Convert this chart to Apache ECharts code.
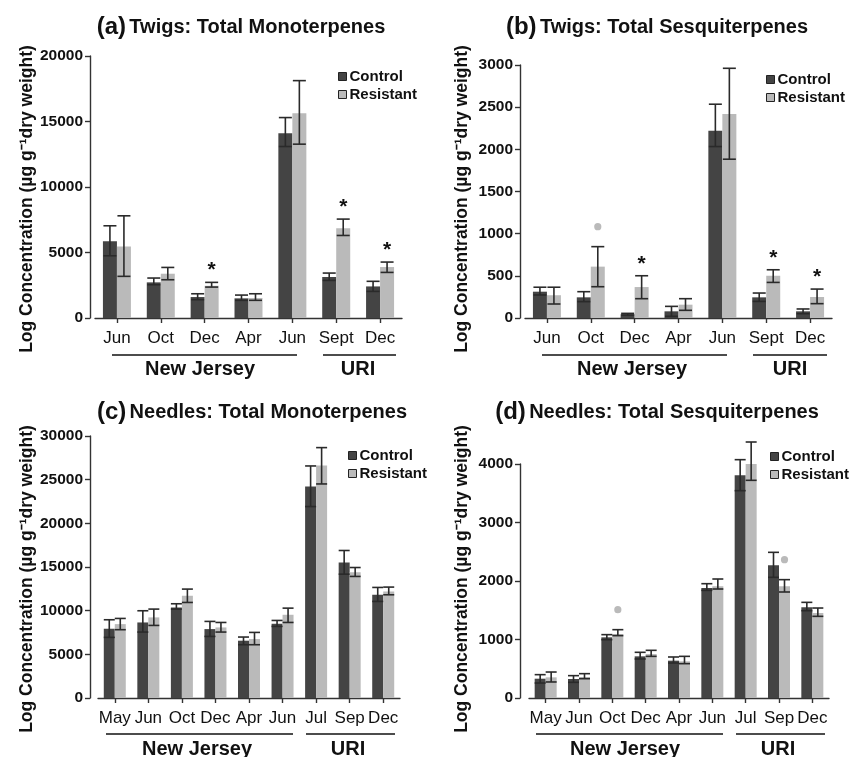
<!DOCTYPE html>
<html>
<head>
<meta charset="utf-8">
<script src="https://cdn.jsdelivr.net/npm/echarts@6/dist/echarts.min.js"></script>
<style>
html,body{margin:0;padding:0;background:#fff;}
#chart{width:859px;height:757px;}
</style>
</head>
<body>
<div id="chart"></div>
<script>
// ---------- DATA ----------
const catsTwigs = ['Jun', 'Oct', 'Dec', 'Apr', 'Jun', 'Sept', 'Dec'];
const catsNeedles = ['May', 'Jun', 'Oct', 'Dec', 'Apr', 'Jun', 'Jul', 'Sep', 'Dec'];

// (a) Twigs: Total Monoterpenes
const ctrlA    = [5850, 2720, 1600, 1500, 14100, 3130, 2410];
const ctrlA_hi = [7040, 3050, 1850, 1750, 15300, 3430, 2800];
const ctrlA_lo = [4750, 2540, 1400, 1350, 13090, 2870, 2030];
const resA     = [5460, 3380, 2460, 1525, 15630, 6860, 3890];
const resA_hi  = [7800, 3860, 2720, 1850, 18120, 7550, 4270];
const resA_lo  = [3180, 2920, 2360, 1350, 13270, 6300, 3480];
const markA    = ['', '', '*', '', '', '*', '*'];

// (b) Twigs: Total Sesquiterpenes
const ctrlB    = [312, 245, 45, 79, 2219, 245, 79];
const ctrlB_hi = [365, 312, 55, 138, 2535, 296, 107];
const ctrlB_lo = [273, 194, 35, 20, 2033, 197, 51];
const resB     = [270, 609, 367, 158, 2420, 501, 249];
const resB_hi  = [365, 846, 501, 229, 2961, 572, 343];
const resB_lo  = [166, 371, 229, 91, 1883, 422, 170];
const markB    = ['', 'dot', '*', '', '', '*', '*'];

// (c) Needles: Total Monoterpenes
const ctrlC    = [7930, 8650, 10370, 7890, 6560, 8500, 24210, 15520, 11820];
const ctrlC_hi = [8960, 9990, 10790, 8770, 6980, 8880, 26570, 16890, 12660];
const ctrlC_lo = [6940, 7550, 10180, 7050, 6100, 8200, 21920, 14180, 11060];
const resC     = [8460, 9230, 11700, 8080, 6750, 9530, 26610, 14410, 12200];
const resC_hi  = [9110, 10180, 12470, 8650, 7510, 10290, 28670, 14940, 12700];
const resC_lo  = [7820, 8310, 10940, 7550, 6100, 8650, 24510, 13920, 11820];
const markC    = ['', '', '', '', '', '', '', '', ''];

// (d) Needles: Total Sesquiterpenes
const ctrlD    = [330, 325, 1037, 712, 638, 1880, 3806, 2268, 1550];
const ctrlD_hi = [399, 382, 1083, 781, 701, 1954, 4074, 2490, 1635];
const ctrlD_lo = [256, 268, 997, 667, 598, 1840, 3544, 2063, 1493];
const resD     = [353, 359, 1094, 752, 627, 1909, 4045, 1909, 1453];
const resD_hi  = [444, 416, 1168, 815, 712, 2034, 4376, 2023, 1538];
const resD_lo  = [274, 330, 1066, 712, 587, 1863, 3721, 1812, 1396];
const markD    = ['', '', 'dot', '', '', '', '', 'dot', ''];

const yMax = [20000, 3000, 30000, 4000];
const yStep = [5000, 500, 5000, 1000];

const titlesTag = ['(a)', '(b)', '(c)', '(d)'];
const titlesText = ['Twigs: Total Monoterpenes', 'Twigs: Total Sesquiterpenes',
                    'Needles: Total Monoterpenes', 'Needles: Total Sesquiterpenes'];
const yName = 'Log Concentration (\u00b5g g\u207b\u00b9dry weight)';
const groupNames = ['New Jersey', 'URI'];
const seriesNames = ['Control', 'Resistant'];

// ---------- STYLE / LAYOUT ----------
const FONT = '"Liberation Sans", Arial, Helvetica, sans-serif';
const C_DARK = '#444444';
const C_LIGHT = '#bababa';
const C_ERR = '#2a2a2a';
const C_TEXT = '#111111';

const panels = [
  {cats: catsTwigs, ctrl: ctrlA, cHi: ctrlA_hi, cLo: ctrlA_lo, res: resA, rHi: resA_hi, rLo: resA_lo, mark: markA,
   grid: {left: 95, top: 56, width: 307, height: 262}, yOff: 5, bw: 14, cap: 13,
   legend: {left: 333, top: 64}, title: [241, 27], yname: [27, 199],
   lines: [[112, 297], [323, 396]], lineY: 355, glab: [[200, 369], [358, 369]]},
  {cats: catsTwigs, ctrl: ctrlB, cHi: ctrlB_hi, cLo: ctrlB_lo, res: resB, rHi: resB_hi, rLo: resB_lo, mark: markB,
   grid: {left: 525, top: 65, width: 307, height: 253}, yOff: 5, bw: 14, cap: 13,
   legend: {left: 761, top: 67}, title: [657, 27], yname: [462, 199],
   lines: [[542, 727], [753, 827]], lineY: 355, glab: [[632, 369], [790, 369]]},
  {cats: catsNeedles, ctrl: ctrlC, cHi: ctrlC_hi, cLo: ctrlC_lo, res: resC, rHi: resC_hi, rLo: resC_lo, mark: markC,
   grid: {left: 98, top: 436, width: 302, height: 262}, yOff: 8, bw: 11, cap: 11,
   legend: {left: 343, top: 443}, title: [252, 412], yname: [27, 579],
   lines: [[106, 293], [306, 395]], lineY: 734, glab: [[197, 749], [348, 749]]},
  {cats: catsNeedles, ctrl: ctrlD, cHi: ctrlD_hi, cLo: ctrlD_lo, res: resD, rHi: resD_hi, rLo: resD_lo, mark: markD,
   grid: {left: 529, top: 464, width: 300, height: 234}, yOff: 9, bw: 11, cap: 11,
   legend: {left: 765, top: 444}, title: [657, 412], yname: [462, 579],
   lines: [[536, 723], [736, 825]], lineY: 734, glab: [[625, 749], [778, 749]]}
];

// ---------- BUILD ----------
const grids = [], xAxes = [], yAxes = [], series = [], legends = [], graphics = [];

function errSeries(gi, lo, hi, side, bw, cap) {
  return {
    type: 'custom', xAxisIndex: gi, yAxisIndex: gi, z: 5, silent: true, clip: false,
    encode: {x: 0, y: [1, 2]},
    data: lo.map((l, i) => [i, l, hi[i]]),
    renderItem: function (params, api) {
      const i = api.value(0);
      const pLo = api.coord([i, api.value(1)]);
      const pHi = api.coord([i, api.value(2)]);
      const x = pLo[0] + side * bw / 2;
      const st = {stroke: C_ERR, lineWidth: 1.6};
      return {type: 'group', children: [
        {type: 'line', shape: {x1: x, y1: pLo[1], x2: x, y2: pHi[1]}, style: st},
        {type: 'line', shape: {x1: x - cap / 2, y1: pLo[1], x2: x + cap / 2, y2: pLo[1]}, style: st},
        {type: 'line', shape: {x1: x - cap / 2, y1: pHi[1], x2: x + cap / 2, y2: pHi[1]}, style: st}
      ]};
    }
  };
}

function markSeries(gi, marks, hi, bw) {
  const data = [];
  marks.forEach((m, i) => { if (m) data.push([i, hi[i]]); });
  return {
    type: 'custom', xAxisIndex: gi, yAxisIndex: gi, z: 6, silent: true, clip: false,
    encode: {x: 0, y: 1},
    data: data,
    renderItem: function (params, api) {
      const i = api.value(0);
      const p = api.coord([i, api.value(1)]);
      const x = p[0] + bw / 2;
      if (marks[i] === '*') {
        return {type: 'text', x: x, y: p[1] - 12,
          style: {text: '*', fill: '#111', fontSize: 21, fontWeight: 'bold', fontFamily: FONT,
                  align: 'center', verticalAlign: 'middle'}};
      }
      return {type: 'circle', shape: {cx: x, cy: p[1] - 20, r: 3.6}, style: {fill: C_LIGHT}};
    }
  };
}

panels.forEach((P, gi) => {
  grids.push(Object.assign({containLabel: false}, P.grid));
  xAxes.push({
    type: 'category', gridIndex: gi, data: P.cats,
    axisLine: {show: true, lineStyle: {color: '#333', width: 1.4}},
    axisTick: {show: true, alignWithLabel: true, length: 5, lineStyle: {color: '#333', width: 1.4}},
    axisLabel: {interval: 0, margin: 12, color: C_TEXT, fontSize: 17, fontFamily: FONT},
    splitLine: {show: false}
  });
  yAxes.push({
    type: 'value', gridIndex: gi, min: 0, max: yMax[gi], interval: yStep[gi], offset: P.yOff,
    axisLine: {show: true, lineStyle: {color: '#333', width: 1.4}},
    axisTick: {show: true, length: 5, lineStyle: {color: '#333', width: 1.4}},
    axisLabel: {margin: 7, color: C_TEXT, fontSize: 15.5, fontWeight: 'bold', fontFamily: FONT,
                formatter: v => String(v)},
    splitLine: {show: false}
  });
  series.push({
    name: seriesNames[0], type: 'bar', xAxisIndex: gi, yAxisIndex: gi, data: P.ctrl,
    barWidth: P.bw, barGap: '0%', itemStyle: {color: C_DARK}, silent: true
  });
  series.push({
    name: seriesNames[1], type: 'bar', xAxisIndex: gi, yAxisIndex: gi, data: P.res,
    barWidth: P.bw, barGap: '0%', itemStyle: {color: C_LIGHT}, silent: true
  });
  series.push(errSeries(gi, P.cLo, P.cHi, -1, P.bw, P.cap));
  series.push(errSeries(gi, P.rLo, P.rHi, 1, P.bw, P.cap));
  series.push(markSeries(gi, P.mark, P.rHi, P.bw));

  legends.push({
    left: P.legend.left, top: P.legend.top, orient: 'vertical', icon: 'rect',
    itemWidth: 8, itemHeight: 8, itemGap: 3, selectedMode: false,
    textStyle: {color: C_TEXT, fontSize: 15, fontWeight: 'bold', fontFamily: FONT, padding: [0, 0, 0, -2]},
    itemStyle: {borderColor: '#222', borderWidth: 1},
    data: seriesNames
  });

  // title
  graphics.push({
    type: 'text', x: P.title[0], y: P.title[1],
    style: {
      text: '{p|' + titlesTag[gi] + '} {t|' + titlesText[gi] + '}',
      align: 'center', verticalAlign: 'middle', fill: C_TEXT,
      rich: {
        p: {fontSize: 24, fontWeight: 'bold', fontFamily: FONT, fill: C_TEXT},
        t: {fontSize: 20, fontWeight: 'bold', fontFamily: FONT, fill: C_TEXT}
      }
    }
  });
  // y axis name
  graphics.push({
    type: 'text', x: P.yname[0], y: P.yname[1], rotation: Math.PI / 2,
    style: {text: yName, align: 'center', verticalAlign: 'middle', fill: C_TEXT,
            fontSize: 17.5, fontWeight: 'bold', fontFamily: FONT}
  });
  // group brackets
  P.lines.forEach(l => {
    graphics.push({type: 'line', shape: {x1: l[0], y1: P.lineY, x2: l[1], y2: P.lineY},
                   style: {stroke: '#111', lineWidth: 1.6}});
  });
  P.glab.forEach((g, k) => {
    graphics.push({type: 'text', x: g[0], y: g[1],
      style: {text: groupNames[k], align: 'center', verticalAlign: 'middle', fill: C_TEXT,
              fontSize: 20, fontWeight: 'bold', fontFamily: FONT}});
  });
});

const chart = echarts.init(document.getElementById('chart'), null, {renderer: 'canvas'});
chart.setOption({
  animation: false,
  backgroundColor: '#ffffff',
  grid: grids, xAxis: xAxes, yAxis: yAxes, series: series, legend: legends,
  graphic: {elements: graphics}
});
</script>
</body>
</html>
